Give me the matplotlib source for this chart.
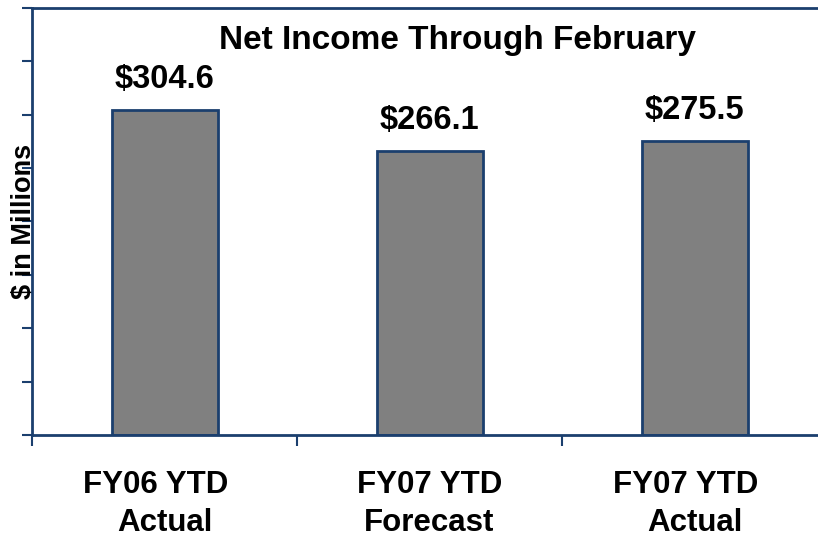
import numpy as np
import matplotlib
matplotlib.use("Agg")
import matplotlib.pyplot as plt

categories = ["FY06 YTD  \nActual", "FY07 YTD\nForecast", "FY07 YTD  \nActual"]
values = [304.6, 266.1, 275.5]
value_labels = ["$304.6", "$266.1", "$275.5"]

navy = "#1b3f6e"
plt.rcParams['font.family'] = ['Liberation Sans', 'DejaVu Sans']
plt.rcParams['font.weight'] = 'bold'

W, H = 818, 539
fig = plt.figure(figsize=(W / 100, H / 100), dpi=100)
ax = fig.add_axes([32 / W, (H - 435) / H, (827 - 32) / W, (435 - 8) / H])

x = np.arange(len(values))
ax.bar(x, values, width=0.4, color="#808080", edgecolor=navy, linewidth=2, zorder=2)

for xi, v, lab in zip(x, values, value_labels):
    ax.annotate(lab, (xi, v), xytext=(0, 16), textcoords="offset points",
                ha="center", va="baseline", fontsize=23.5, fontweight="bold")

ax.set_xlim(-0.5, 2.5)
ax.set_ylim(0, 400)
ax.set_yticks(np.arange(0, 401, 50))
ax.set_yticklabels([])
ax.tick_params(axis="y", direction="out", length=7, width=1.5, color=navy)

ax.set_xticks(x)
ax.set_xticklabels(categories, fontsize=22.5, fontweight="bold", linespacing=1.34)
ax.set_xticks(np.arange(-0.5, 3, 1), minor=True)
ax.tick_params(axis="x", which="major", length=0, pad=25)
ax.tick_params(axis="x", which="minor", direction="out", length=8, width=1.5, color=navy)

for side in ["left", "bottom", "top"]:
    ax.spines[side].set_color(navy)
    ax.spines[side].set_linewidth(2)
ax.spines["right"].set_visible(False)

ax.set_ylabel("$ in Millions", fontsize=19.5, fontweight="bold")
ax.yaxis.set_label_coords(-8 / 795, 0.5)
ax.yaxis.label.set_va("center")

fig.text(457 / W, 1 - 49 / H, "Net Income Through February", ha="center", va="baseline",
         fontsize=24, fontweight="bold")

fig.savefig("out.png", dpi=100)
